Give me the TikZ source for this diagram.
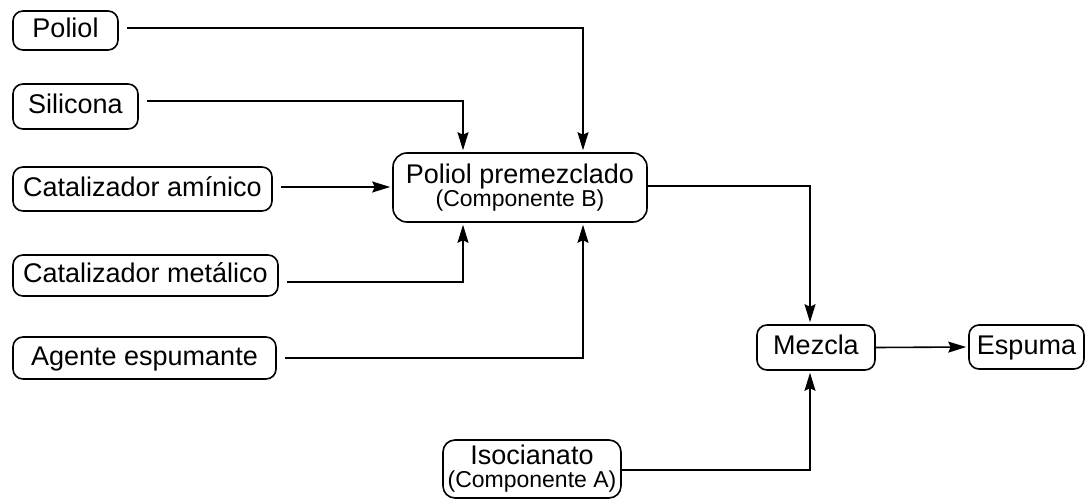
\documentclass[tikz,border=0pt]{standalone}
\usepackage{fontspec}
\setmainfont{Liberation Sans}
\usetikzlibrary{arrows.meta}
\newcommand{\mainsize}{\fontsize{27pt}{32pt}\selectfont}
\newcommand{\subsize}{\fontsize{23pt}{27pt}\selectfont}
\begin{document}
\begin{tikzpicture}[x=1pt,y=-1pt,
  box/.style={draw,line width=1.6pt,rounded corners=10pt,inner sep=0pt,
    font=\mainsize,align=center},
  onebox/.style={box,text height=19.5pt,text depth=5.5pt},
  flow/.style={line width=1.6pt,-{Stealth[length=18pt,width=11pt,inset=2.5pt]},
    shorten >=2pt},
  feed/.style={flow,shorten <=8pt}]
\useasboundingbox (0,0) rectangle (1090,503);

% ingredient boxes on the left
\node[onebox,minimum width=105pt,minimum height=39pt] (poliol) at (65.5,30.5) {Poliol};
\node[onebox,minimum width=125pt,minimum height=45pt] (silicona) at (75.5,106.5) {Silicona};
\node[onebox,minimum width=259pt,minimum height=44pt] (amin) at (142.5,189) {Catalizador amínico};
\node[onebox,minimum width=265pt,minimum height=41pt] (metal) at (145.5,275.5) {Catalizador metálico};
\node[onebox,minimum width=263pt,minimum height=42pt] (agente) at (144.5,358) {Agente espumante};

% intermediate and final products
\node[box,rounded corners=14pt,minimum width=254pt,minimum height=69pt] (premez) at (520,187.5)
  {Poliol premezclado\\[-9pt]{\subsize (Componente B)}};
\node[onebox,minimum width=118pt,minimum height=45pt] (mezcla) at (816,347.5) {Mezcla};
\node[onebox,minimum width=115pt,minimum height=44pt] (espuma) at (1026.5,347) {Espuma};
\node[box,rounded corners=12pt,minimum width=178pt,minimum height=58pt] (iso) at (532,469)
  {Isocianato\\[-9pt]{\subsize (Componente A)}};

% feeds into the premixed polyol
\draw[feed] ([yshift=2.5pt]poliol.east) -| ([xshift=63pt]premez.north);
\draw[feed] ([yshift=5.5pt]silicona.east) -| ([xshift=-57pt]premez.north);
\draw[feed] ([yshift=2pt]amin.east) -- ([yshift=2pt]amin.east -| premez.west);
\draw[feed] ([yshift=-6.5pt]metal.east) -| ([xshift=-57pt]premez.south);
\draw[feed] (agente.east) -| ([xshift=63pt]premez.south);

% mixing and foaming
\draw[flow] ([yshift=1.5pt]premez.east) -| ([xshift=-6pt]mezcla.north);
\draw[flow] ([yshift=-1pt]iso.east) -| ([xshift=-6pt]mezcla.south);
\draw[flow] (mezcla.east) -- (espuma.west);
\end{tikzpicture}
\end{document}
